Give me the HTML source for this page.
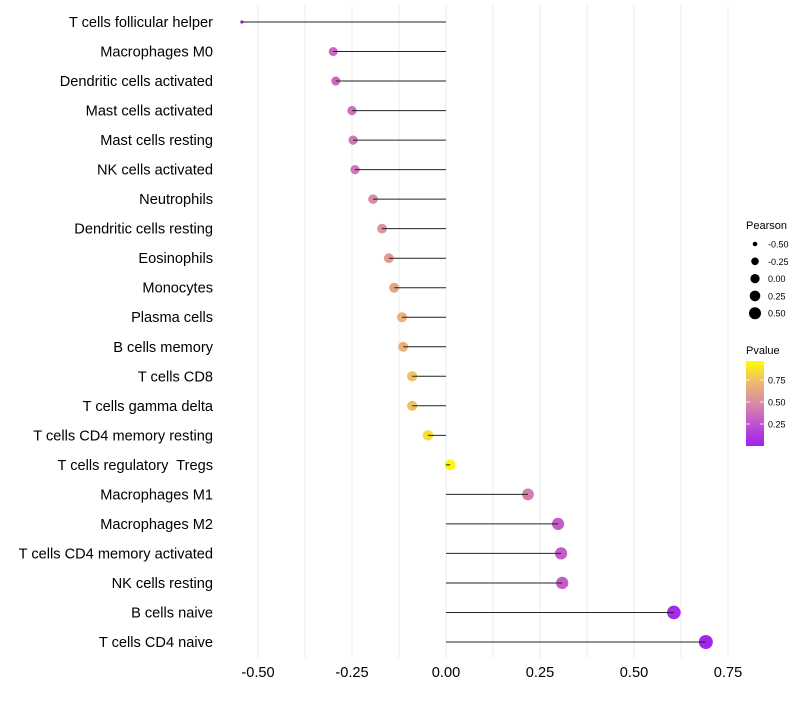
<!DOCTYPE html>
<html><head><meta charset="utf-8"><style>
body{margin:0;background:#fff;font-family:"Liberation Sans",sans-serif}
text{white-space:pre}
</style></head><body>
<svg id="c" width="800" height="700" xmlns="http://www.w3.org/2000/svg">
</svg>
<script>
const categories=["T cells follicular helper","Macrophages M0","Dendritic cells activated","Mast cells activated","Mast cells resting","NK cells activated","Neutrophils","Dendritic cells resting","Eosinophils","Monocytes","Plasma cells","B cells memory","T cells CD8","T cells gamma delta","T cells CD4 memory resting","T cells regulatory  Tregs","Macrophages M1","Macrophages M2","T cells CD4 memory activated","NK cells resting","B cells naive","T cells CD4 naive"];
const pearson=[-0.543,-0.30,-0.293,-0.25,-0.247,-0.242,-0.194,-0.17,-0.152,-0.138,-0.117,-0.114,-0.09,-0.09,-0.048,0.011,0.218,0.298,0.306,0.309,0.606,0.691];
const pvalue=[0.03,0.35,0.35,0.4,0.42,0.42,0.5,0.55,0.6,0.65,0.72,0.72,0.78,0.78,0.88,0.97,0.45,0.3,0.3,0.3,0.05,0.02];
const xTicks=[-0.5,-0.25,0,0.25,0.5,0.75];
const xTickLabels=["-0.50","-0.25","0.00","0.25","0.50","0.75"];
const sizeLegendVals=[-0.5,-0.25,0,0.25,0.5];
const pTicks=[0.25,0.5,0.75];
const NS="http://www.w3.org/2000/svg",svg=document.getElementById('c');
const x=v=>446+v*376, y=i=>22+i*(620/21);
const vmin=Math.min(...pearson);
const r=v=>{const d=v-vmin;return d<0.05?1.6:Math.sqrt(13+29*d);};
const stops=[[0,[160,32,240]],[0.25,[192,80,208]],[0.5,[216,138,168]],[0.75,[238,184,112]],[1,[255,255,0]]];
function col(p){for(let k=1;k<stops.length;k++){if(p<=stops[k][0]){const a=stops[k-1],b=stops[k],t=(p-a[0])/(b[0]-a[0]);return 'rgb('+a[1].map((c,j)=>Math.round(c+(b[1][j]-c)*t)).join(',')+')';}}return 'rgb(255,255,0)';}
function el(t,a,txt){const e=document.createElementNS(NS,t);for(const k in a)e.setAttribute(k,a[k]);if(txt!=null)e.textContent=txt;svg.appendChild(e);return e;}
const defs=el('defs',{});
defs.innerHTML='<linearGradient id="pg" x1="0" y1="1" x2="0" y2="0"><stop offset="0" stop-color="#a020f0"/><stop offset="0.25" stop-color="#c050d0"/><stop offset="0.5" stop-color="#d88aa8"/><stop offset="0.75" stop-color="#eeb870"/><stop offset="1" stop-color="#ffff00"/></linearGradient>';
for(let v=-0.5;v<=0.76;v+=0.125){const g=el('line',{x1:x(v),x2:x(v),y1:5,y2:658,stroke:'#ebebeb','stroke-width':1});

}
xTicks.forEach((v,i)=>{const t=el('text',{x:x(v),y:677,'text-anchor':'middle','font-size':14.6,fill:'#000'},xTickLabels[i]);

});
categories.forEach((c,i)=>{
const t=el('text',{x:213,y:y(i)+5,'text-anchor':'end','font-size':14.6,fill:'#000'},c);


const p=el('circle',{cx:x(pearson[i]),cy:y(i),r:r(pearson[i]),fill:col(pvalue[i])});


const s=el('line',{x1:x(0),x2:x(pearson[i]),y1:y(i),y2:y(i),stroke:'#222','stroke-width':1});


});
const lt=el('text',{x:746,y:229,'font-size':11},'Pearson');


const lr=[2.3,3.8,4.6,5.3,6.0];
sizeLegendVals.forEach((v,i)=>{const cy=244+i*17.3;
const c=el('circle',{cx:755,cy:cy,r:lr[i],fill:'#000'});


const t=el('text',{x:768,y:cy+3.5,'font-size':9},v.toFixed(2));

});
const pt=el('text',{x:746,y:354,'font-size':11},'Pvalue');


const bar=el('rect',{x:746,y:361,width:18,height:85,fill:'url(#pg)'});


pTicks.forEach(p=>{const yy=446-p*88;
el('line',{x1:746,x2:750,y1:yy,y2:yy,stroke:'#fff','stroke-width':0.8});
el('line',{x1:760,x2:764,y1:yy,y2:yy,stroke:'#fff','stroke-width':0.8});
const t=el('text',{x:768,y:yy+3.5,'font-size':9},p.toFixed(2));

});
</script>
</body></html>
